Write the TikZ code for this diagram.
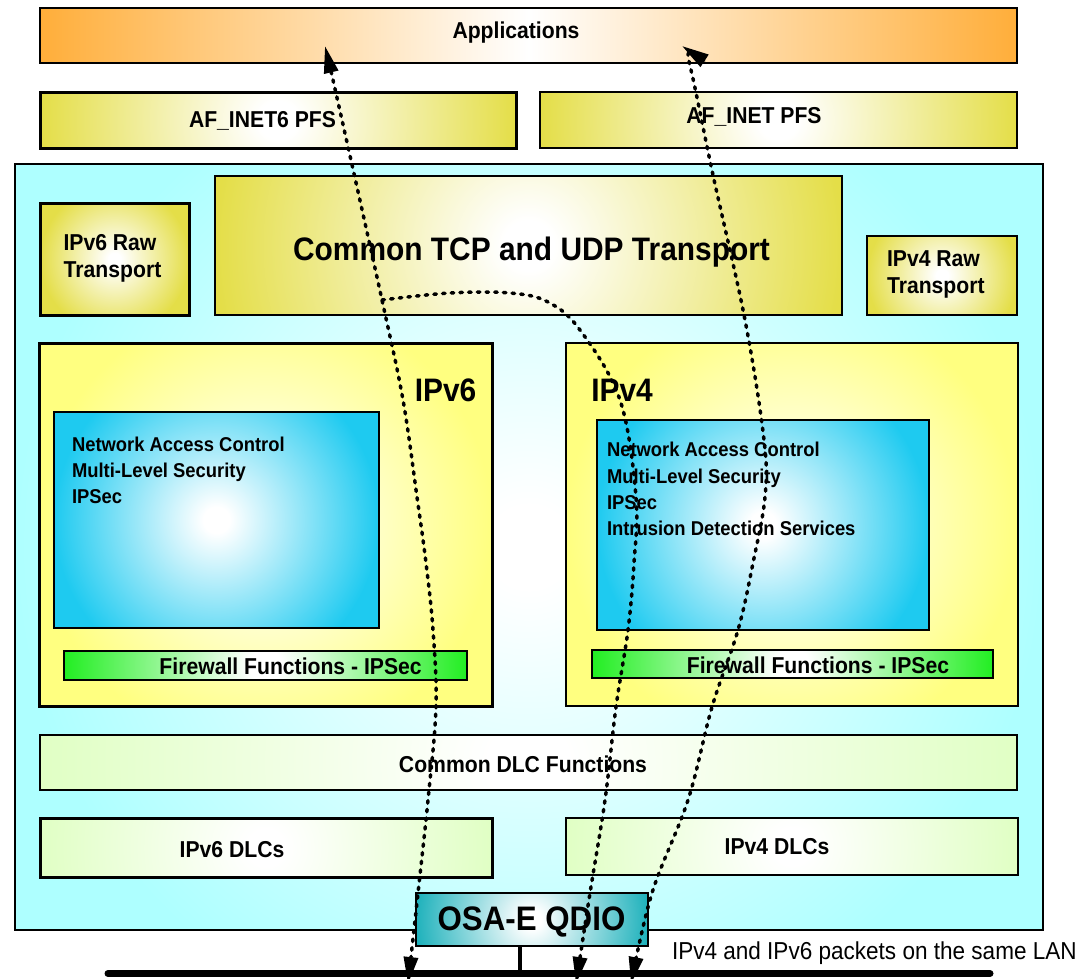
\documentclass[tikz,border=0pt]{standalone}
\usepackage{fontspec}
\newfontfamily\lab{Liberation Sans}[FakeStretch=0.92]
\usetikzlibrary{arrows.meta,calc}

\definecolor{apporange}{HTML}{FFAE3A}
\definecolor{pfsyellow}{HTML}{E4DE48}
\definecolor{ipyellow}{HTML}{FFFF80}
\definecolor{secblue}{HTML}{1ECAF0}
\definecolor{fwgreen}{HTML}{22EE22}
\definecolor{dlcgreen}{HTML}{E0FFC4}
\definecolor{hostcyan}{HTML}{AEFFFF}
\definecolor{osateal}{HTML}{20B2BC}

% round glow: white centre fading to the colour held in glowc
\colorlet{glowc}{white}
\pgfdeclareradialshading[glowc]{glow}{\pgfpoint{0bp}{0bp}}{%
  color(0bp)=(white); color(2bp)=(white); color(25bp)=(glowc); color(50bp)=(glowc)}

\tikzset{
  panel/.style={draw=black, line width=1.3pt, rectangle, inner sep=0pt, outer sep=0pt},
  heavy/.style={line width=3pt},
  glowfill/.style={fill=#1, path picture={%
    \colorlet{glowc}{#1}%
    \shade[shading=glow] let \p1=(path picture bounding box.north east),
      \p2=(path picture bounding box.south west) in
      (path picture bounding box.center) circle [radius={max(\x1-\x2,\y1-\y2)/2}];}},
  hglow/.style={left color=#1, right color=#1, middle color=white},
  lbl/.style={inner sep=0pt, outer sep=0pt, text depth=0pt, text height=16.5pt,
    font=\lab\bfseries\fontsize{23}{27}\selectfont},
  titletxt/.style={text height=23.3pt, font=\lab\bfseries\fontsize{32.5}{38}\selectfont},
  listtxt/.style={text height=14.3pt, anchor=west, font=\lab\bfseries\fontsize{20}{24}\selectfont},
  osatxt/.style={text height=24.3pt, font=\lab\bfseries\fontsize{34}{40}\selectfont},
  lantxt/.style={text height=17.6pt, anchor=west, font=\lab\fontsize{24.5}{29}\selectfont},
  flow/.style={draw=black, line width=3.5pt, line cap=round, dash pattern=on 2.5pt off 6.2pt},
  headtip/.tip={Triangle[length=27pt,width=14pt]},
}

\begin{document}
\begin{tikzpicture}[x=1pt,y=-1pt]
\useasboundingbox (0,0) rectangle (1089,978);

% host frame and the layers above it
\node[panel, glowfill=hostcyan, minimum width=1028pt, minimum height=766pt] (host) at (529,547) {};
\node[panel, line width=1.6pt, hglow=apporange, minimum width=977pt, minimum height=55pt] (apps) at (528.5,35.5) {};
\node[panel, heavy, glowfill=pfsyellow, minimum width=476pt, minimum height=56pt] (af6) at (278,120) {};
\node[panel, line width=1.6pt, glowfill=pfsyellow, minimum width=477pt, minimum height=56pt] (af4) at (778.5,120) {};

% transport layer
\node[panel, heavy, glowfill=pfsyellow, minimum width=149pt, minimum height=112pt] (raw6) at (114.5,259) {};
\node[panel, glowfill=pfsyellow, minimum width=627pt, minimum height=139pt] (tcp) at (528.5,245.5) {};
\node[panel, glowfill=pfsyellow, minimum width=150pt, minimum height=79pt] (raw4) at (942,275.5) {};

% IP stacks
\node[panel, heavy, glowfill=ipyellow, minimum width=453pt, minimum height=363pt] (ip6) at (265.5,524.5) {};
\node[panel, glowfill=secblue, minimum width=325pt, minimum height=216pt] (sec6) at (216.5,520) {};
\node[panel, glowfill=fwgreen, minimum width=403pt, minimum height=29pt] (fw6) at (265.5,665.5) {};
\node[panel, glowfill=ipyellow, minimum width=452pt, minimum height=363pt] (ip4) at (792,524.5) {};
\node[panel, glowfill=secblue, minimum width=332pt, minimum height=210pt] (sec4) at (763,525) {};
\node[panel, glowfill=fwgreen, minimum width=401pt, minimum height=28pt] (fw4) at (792.5,664) {};

% data link layer and adapter
\node[panel, glowfill=dlcgreen, minimum width=977pt, minimum height=55pt] (dlc) at (528.5,762.5) {};
\node[panel, heavy, glowfill=dlcgreen, minimum width=452pt, minimum height=59pt] (dlc6) at (266,847.5) {};
\node[panel, glowfill=dlcgreen, minimum width=452pt, minimum height=57pt] (dlc4) at (792,846.5) {};
\node[panel, glowfill=osateal, minimum width=232pt, minimum height=53pt] (osa) at (532,919.5) {};

% labels
\node[lbl] (t-apps) at (516,30.5) {Applications};
\node[lbl] (t-af6) at (262.5,119.5) {AF\_INET6 PFS};
\node[lbl] (t-af4) at (754,115.5) {AF\_INET PFS};
\node[lbl] (t-raw6a) at (110,242) {IPv6 Raw};
\node[lbl] (t-raw6b) at (112.5,269.7) {Transport};
\node[lbl, anchor=west] (t-raw4a) at (887,258.3) {IPv4 Raw};
\node[lbl, anchor=west] (t-raw4b) at (887,285) {Transport};
\node[lbl, titletxt] (t-tcp) at (531.5,249) {Common TCP and UDP Transport};
\node[lbl, titletxt] (t-ip6) at (445.5,389.5) {IPv6};
\node[lbl, titletxt] (t-ip4) at (622,390) {IPv4};
\foreach \t [count=\i] in {Network Access Control, Multi-Level Security, IPSec}
  \node[lbl, listtxt] (t-sec6-\i) at (72,{444.8+26*(\i-1)}) {\t};
\foreach \t [count=\i] in {Network Access Control, Multi-Level Security, IPSec, Intrusion Detection Services}
  \node[lbl, listtxt] (t-sec4-\i) at (607,{449.5+26.4*(\i-1)}) {\t};
\node[lbl] (t-fw6) at (290.6,666.3) {Firewall Functions - IPSec};
\node[lbl] (t-fw4) at (818,665) {Firewall Functions - IPSec};
\node[lbl] (t-dlc) at (523,764) {Common DLC Functions};
\node[lbl] (t-dlc6) at (232,849) {IPv6 DLCs};
\node[lbl] (t-dlc4) at (777,846) {IPv4 DLCs};
\node[lbl, osatxt] (t-osa) at (531.5,918) {OSA-E QDIO};
\node[lbl, lantxt] (t-lan) at (672,951) {IPv4 and IPv6 packets on the same LAN};

% LAN bus and adapter tap
\coordinate (busL) at (108,973.5);
\coordinate (busR) at (990,973.5);
\coordinate (tap) at (520,973.5);
\draw[line width=7pt, line cap=round] (busL) -- (busR);
\draw[line width=4pt] (osa.south -| tap) -- (tap);

% packet flows (their lower tips run past the page edge)
\coordinate (app6) at (325,46);
\coordinate (lan6) at (408,984);
\coordinate (split) at (382,300);
\coordinate (lan46) at (576,984);
\coordinate (app4) at (682,46);
\coordinate (lan4) at (631,984);
\draw[flow, headtip-headtip] plot[smooth, tension=0.6] coordinates {(app6) (342,120) (split) (403,400) (417,497)
  (426,563) (433,630) (436,707) (428,800) (418,893) (lan6)};
\draw[flow, -headtip] plot[smooth, tension=0.6] coordinates {(split) (450,293) (510,293) (548,302) (580,330)
  (620,400) (636,497) (634,563) (628,630) (616,707) (605,800) (590,893) (lan46)};
\draw[flow, headtip-headtip] plot[smooth, tension=0.6] coordinates {(app4) (691,70) (713,175) (745,320) (764,440)
  (765,497) (753,563) (738,630) (712,707) (688,800) (652,893) (lan4)};
\end{tikzpicture}
\end{document}
